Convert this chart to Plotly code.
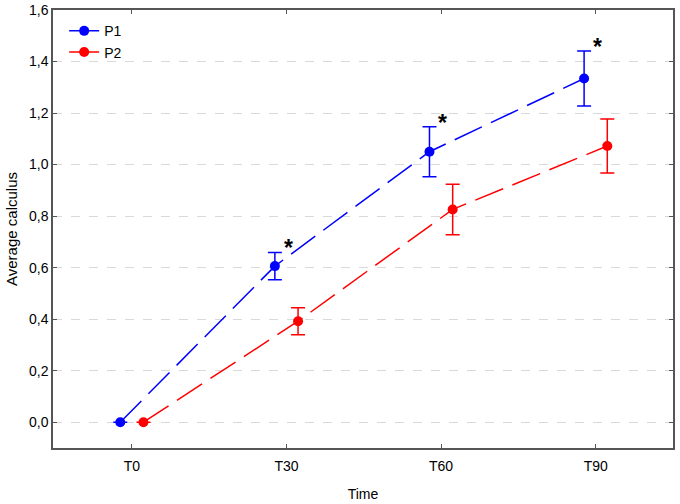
import plotly.graph_objects as go

categories = ["T0", "T30", "T60", "T90"]
p1_mean = [0.0, 0.606, 1.050, 1.334]
p1_err = [0.0, 0.053, 0.097, 0.107]
p2_mean = [0.0, 0.392, 0.826, 1.072]
p2_err = [0.0, 0.052, 0.098, 0.105]
star_cats = ["T30", "T60", "T90"]

# horizontal dodge of the two groups around each category
x_idx = list(range(len(categories)))
x_p1 = [i - 0.075 for i in x_idx]
x_p2 = [i + 0.075 for i in x_idx]

fig = go.Figure()

series = [("P1", x_p1, p1_mean, p1_err, "#0000ff"), ("P2", x_p2, p2_mean, p2_err, "#ff0000")]
for name, xs, ys, errs, color in series:
    fig.add_trace(
        go.Scatter(
            x=xs,
            y=ys,
            name=name,
            mode="lines+markers",
            line=dict(color=color, width=1.5, dash="30px,10px"),
            marker=dict(color=color, size=10),
            error_y=dict(type="data", array=errs, color=color, thickness=1.5, width=7),
        )
    )

# significance marks above the P1 points
annotations = []
for cat in star_cats:
    i = categories.index(cat)
    annotations.append(
        dict(
            x=x_p1[i],
            y=p1_mean[i] + p1_err[i],
            xref="x",
            yref="y",
            text="<b>*</b>",
            showarrow=False,
            xanchor="left",
            yanchor="bottom",
            xshift=7,
            yshift=-11,
            font=dict(size=23, color="black", family="Liberation Sans, Arial"),
        )
    )

axis_style = dict(
    showline=True,
    linecolor="#555555",
    linewidth=1.5,
    mirror="ticks",
    ticks="inside",
    ticklen=4,
    tickcolor="#555555",
    zeroline=False,
    automargin=False,
    tickfont=dict(size=14, color="black"),
)

fig.update_layout(
    width=680,
    height=504,
    margin=dict(l=53, r=7, t=10, b=56),
    paper_bgcolor="white",
    plot_bgcolor="white",
    separators=", ",
    font=dict(family="Liberation Sans, Arial", size=12, color="black"),
    annotations=annotations,
    showlegend=True,
    legend=dict(
        x=0.018,
        y=0.988,
        xanchor="left",
        yanchor="top",
        bgcolor="rgba(0,0,0,0)",
        font=dict(size=14),
        tracegroupgap=0,
        itemwidth=30,
    ),
    xaxis=dict(
        range=[-0.51, 3.5],
        tickvals=x_idx,
        ticktext=categories,
        showgrid=False,
        ticklabelstandoff=4,
        title=dict(text="Time", font=dict(size=14), standoff=17),
        **axis_style,
    ),
    yaxis=dict(
        range=[-0.1, 1.6],
        dtick=0.2,
        tick0=0,
        tickformat=".1f",
        showgrid=True,
        gridcolor="#d9d9d9",
        griddash="dash",
        gridwidth=1,
        title=dict(text="Average calculus", font=dict(size=15), standoff=8),
        **axis_style,
    ),
)

# the page body has a default 8px margin; drop it so the figure sits at 0,0
fig.write_html(
    "out.html",
    config={"displayModeBar": False},
    post_script="document.body.style.margin = '0';",
)
